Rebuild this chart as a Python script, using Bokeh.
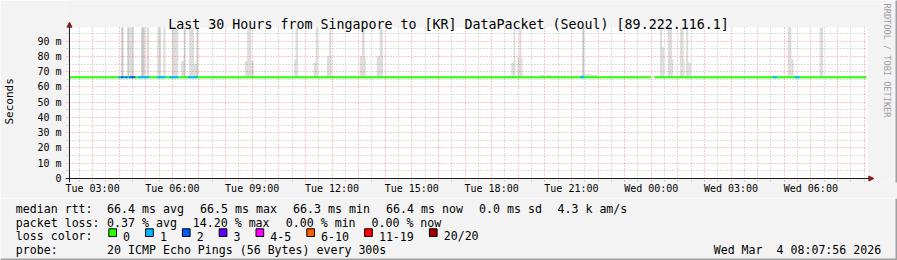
import math
from bokeh.plotting import figure
from bokeh.layouts import column
from bokeh.models import FixedTicker, Label, Arrow, NormalHead, Range1d
from bokeh.embed import file_html
from bokeh.resources import INLINE

# ---------------- data ----------------
title_text = "Last 30 Hours from Singapore to [KR] DataPacket (Seoul) [89.222.116.1]"
y_axis_label = "Seconds"
watermark = "RRDTOOL / TOBI OETIKER"
timestamp = "Wed Mar  4 08:07:56 2026"

# time axis in hours since Tue 00:00 (2026-03-03)
t_start = 2 + 7 / 60 + 56 / 3600
t_end = t_start + 30

x_tick_hours = [3, 6, 9, 12, 15, 18, 21, 24, 27, 30]
x_tick_labels = ["Tue 03:00", "Tue 06:00", "Tue 09:00", "Tue 12:00", "Tue 15:00",
                 "Tue 18:00", "Tue 21:00", "Wed 00:00", "Wed 03:00", "Wed 06:00"]
y_tick_values = [0, 10, 20, 30, 40, 50, 60, 70, 80, 90]
y_tick_labels = ["0", "10 m", "20 m", "30 m", "40 m", "50 m", "60 m", "70 m", "80 m", "90 m"]
y_top_ms = 99

median_rtt_ms = 66.4
rtt_start = [t_start, 24.12]
rtt_end = [23.99, 32.09]

smoke_start = [4.08, 4.31, 4.38, 4.83, 5.03, 5.43, 5.66, 5.98, 6.33, 6.43, 6.63, 6.81, 6.91,
               8.73, 8.81, 10.58, 10.63, 11.31, 11.39, 11.81, 11.89, 13.04, 13.12, 13.68, 13.79,
               18.74, 18.83, 18.97, 19.04, 19.79, 20.06, 20.36, 20.69, 21.09, 21.33, 21.41, 21.48,
               21.74, 24.33, 24.41, 24.62, 24.78, 25.08, 25.22, 25.31, 25.39, 29.13, 29.27, 30.33]
smoke_end = [4.16, 4.38, 4.56, 4.96, 5.13, 5.58, 5.74, 6.22, 6.48, 6.48, 6.81, 6.96, 6.96,
             9.06, 8.97, 10.72, 10.72, 11.47, 11.47, 11.99, 11.97, 13.27, 13.23, 13.91, 13.91,
             18.89, 18.89, 19.16, 19.12, 19.98, 20.24, 20.51, 20.81, 21.22, 21.48, 21.48, 21.74,
             22.00, 24.41, 24.49, 24.78, 24.82, 25.22, 25.25, 25.39, 25.49, 29.27, 29.35, 30.46]
smoke_top = [180, 180, 180, 180, 180, 180, 180, 180, 77, 180, 180, 75, 180,
             77, 180, 78, 180, 76, 180, 80, 180, 80, 180, 80, 180,
             76, 180, 79, 180, 67.8, 67.8, 67.4, 67.4, 67.4, 68.0, 180, 68.3,
             68.0, 180, 86, 180, 78, 180, 78, 180, 76, 180, 78, 180]
smoke_dense = [1, 1, 0, 1, 0, 0, 0, 0, 0, 1, 0, 0, 1,
               0, 0, 0, 0, 0, 0, 0, 0, 0, 0, 0, 0,
               0, 0, 0, 0, 0, 0, 0, 0, 0, 0, 1, 0,
               0, 0, 0, 0, 0, 0, 0, 0, 0, 0, 0, 0]

loss_start = [3.96, 4.08, 4.16, 4.23, 4.31, 4.38, 4.46, 4.53, 4.72, 5.43, 5.88, 6.58, 21.33, 28.57, 29.39]
loss_end = [4.08, 4.16, 4.23, 4.31, 4.38, 4.46, 4.53, 4.61, 5.13, 5.74, 6.22, 6.96, 21.48, 28.72, 29.57]
loss_pings = [1, 3, 1, 2, 1, 2, 3, 2, 1, 1, 1, 1, 1, 1, 1]

loss_legend_labels = ["0", "1", "2", "3", "4-5", "6-10", "11-19", "20/20"]
loss_legend_colors = ["#26ff00", "#00b8ff", "#0059ff", "#5e00ff", "#ff00fe", "#ff5e00", "#ff0000", "#a00000"]
loss_bin_upper = [0, 1, 2, 3, 5, 10, 19, 20]

rtt_label = "median rtt:"
rtt_items = ["66.4 ms avg", "66.5 ms max", "66.3 ms min", "66.4 ms now", "0.0 ms sd", "4.3 k am/s"]
loss_label = "packet loss:"
loss_items = ["0.37 % avg", "14.20 % max", "0.00 % min", "0.00 % now"]
color_label = "loss color:"
probe_label = "probe:"
probe_items = ["20 ICMP Echo Pings (56 Bytes) every 300s"]

# ---------------- layout / style ----------------
W = 897
MAIN_H, LEG_H = 198, 62
PLOT_L, PLOT_R, PLOT_T, PLOT_B = 67, 867, 27, 178   # RRD canvas area (px)
FRAME_L, FRAME_B = 63, 182
FONT = "DejaVu Sans Mono"
BACK = "#F3F3F3"
SHADE = "#A0A0A0"
MGRID = "#DE4F4F"
GRID = "#8F8F8F"
AXIS = "#1F1F1F"
ARROW = "#801F1F"
SMOKE = ["#DDDDDD", "#C8C8C8"]

px_per_h = (PLOT_R - PLOT_L) / 30
px_per_ms = (PLOT_B - PLOT_T) / y_top_ms
x_lo = t_start - (PLOT_L - FRAME_L) / px_per_h
x_hi = t_end + (W - PLOT_R) / px_per_h
y_lo = -(FRAME_B - PLOT_B) / px_per_ms
y_hi = y_top_ms + PLOT_T / px_per_ms
y_tip = y_top_ms + (PLOT_T - 21.7) / px_per_ms
x_tip = t_end + 6.3 / px_per_h


def loss_color(n):
    for upper, col in zip(loss_bin_upper, loss_legend_colors):
        if n <= upper:
            return col
    return loss_legend_colors[-1]


p = figure(width=W, height=MAIN_H, output_backend="svg", toolbar_location=None,
           x_range=Range1d(x_lo, x_hi), y_range=Range1d(y_lo, y_hi),
           min_border_left=FRAME_L, min_border_right=0, min_border_top=0,
           min_border_bottom=MAIN_H - FRAME_B,
           background_fill_color=BACK, border_fill_color=BACK, outline_line_color=None)

# white canvas of the graph
p.quad(left=[t_start], right=[t_end], bottom=[0], top=[y_top_ms],
       fill_color="white", line_color=None, level="image")

# grids
hourly = list(range(3, 33))
half_hourly = [h + 0.5 for h in range(2, 32)]
minor_y = [v + 5 for v in y_tick_values]
xg, yg = p.xgrid[0], p.ygrid[0]
xg.ticker = FixedTicker(ticks=hourly, minor_ticks=half_hourly)
yg.ticker = FixedTicker(ticks=y_tick_values, minor_ticks=minor_y)
for g in (xg, yg):
    g.grid_line_color = MGRID
    g.grid_line_alpha = 0.6
    g.grid_line_dash = "1 2"
    g.minor_grid_line_color = GRID
    g.minor_grid_line_alpha = 0.6
    g.minor_grid_line_dash = "1 2"
    g.level = "guide"
grid_ok = True
try:
    xg.cross_bounds = (y_lo * 0.75, y_top_ms)
    yg.cross_bounds = (t_start - 3 / px_per_h, t_end)
except Exception:
    grid_ok = False
if not grid_ok:
    xg.visible = False
    yg.visible = False
    p.segment(x0=half_hourly, y0=0, x1=half_hourly, y1=y_top_ms, line_color=GRID,
              line_alpha=0.6, line_dash="1 2", level="guide")
    p.segment(x0=hourly, y0=y_lo * 0.75, x1=hourly, y1=y_top_ms, line_color=MGRID,
              line_alpha=0.6, line_dash="1 2", level="guide")
    p.segment(x0=t_start, y0=minor_y, x1=t_end, y1=minor_y, line_color=GRID,
              line_alpha=0.6, line_dash="1 2", level="guide")
    p.segment(x0=t_start - 3 / px_per_h, y0=y_tick_values, x1=t_end, y1=y_tick_values,
              line_color=MGRID, line_alpha=0.6, line_dash="1 2", level="guide")

# axes
xa = p.xaxis[0]
xa.ticker = FixedTicker(ticks=x_tick_hours, minor_ticks=[])
xa.major_label_overrides = dict(zip(x_tick_hours, x_tick_labels))
ya = p.yaxis[0]
ya.ticker = FixedTicker(ticks=y_tick_values, minor_ticks=[])
ya.major_label_overrides = dict(zip(y_tick_values, y_tick_labels))
ya.bounds = (y_lo, y_tip)
for a in (xa, ya):
    a.axis_line_color = None
    a.major_tick_in = 0
    a.minor_tick_in = 0
    a.major_tick_out = 0
    a.minor_tick_out = 0
    a.major_label_text_font = FONT
    a.major_label_text_font_size = "10px"
    a.major_label_text_color = "black"
xa.major_label_standoff = 0
ya.major_label_standoff = 4
# the axis label is centred on the frame; pad (non-breaking) so it sits centred on the graph area
ya.axis_label = y_axis_label + "\u00a0" * 3
ya.axis_label_text_font = FONT
ya.axis_label_text_font_size = "11px"
ya.axis_label_text_font_style = "normal"
ya.axis_label_text_color = "black"
ya.axis_label_standoff = 18

# smoke (off-scale values are cut at the top of the graph, as rrdtool does)
p.quad(left=smoke_start, right=smoke_end, bottom=median_rtt_ms,
       top=[min(v, y_top_ms) for v in smoke_top],
       fill_color=[SMOKE[d] for d in smoke_dense], line_color=None)

# median line + loss colouring
p.segment(x0=rtt_start, y0=median_rtt_ms, x1=rtt_end, y1=median_rtt_ms,
          line_color=loss_legend_colors[0], line_width=2, level="annotation")
p.segment(x0=loss_start, y0=median_rtt_ms, x1=loss_end, y1=median_rtt_ms,
          line_color=[loss_color(n) for n in loss_pings], line_width=2, level="annotation")

# axis lines with arrows
head = dict(size=5, fill_color=ARROW, line_color=ARROW)
p.add_layout(Arrow(end=NormalHead(**head), x_start=x_lo, y_start=0,
                   x_end=x_tip, y_end=0, line_color=AXIS, line_width=1))
p.add_layout(Arrow(end=NormalHead(**head), x_start=t_start, y_start=y_lo,
                   x_end=t_start, y_end=y_tip, line_color=AXIS, line_width=1))

# image edge shading (right side of the graph part)
p.quad(left=[x_hi - 2 / px_per_h], right=[x_hi], bottom=[y_lo], top=[y_hi],
       fill_color=SHADE, line_color=None, level="overlay")


def canvas_text(fig, X, Y, text, size, align="left", baseline="alphabetic", angle=0.0, color="black"):
    fig.add_layout(Label(x=X, y=Y, x_units="canvas", y_units="canvas", text=text,
                         text_font=FONT, text_font_size=f"{size}px", text_align=align,
                         text_baseline=baseline, angle=angle, text_color=color))


canvas_text(p, 448, 24, title_text, 13.3, align="center")
canvas_text(p, 886, 60, watermark, 8.6, align="center", baseline="middle",
            angle=-math.pi / 2, color="#A0A0A0")

# ---------------- legend block ----------------
p2 = figure(width=W, height=LEG_H, output_backend="svg", toolbar_location=None,
            x_range=Range1d(0, W), y_range=Range1d(MAIN_H + LEG_H, MAIN_H),
            x_axis_type=None, y_axis_type=None, min_border=0,
            background_fill_color=BACK, border_fill_color=BACK, outline_line_color=None)
p2.grid.visible = False
for fig in (p, p2):
    try:
        fig.frame_align = False
    except Exception:
        pass

LEG = 11.6
col0, col1 = 15.3, 106.6
char_w, gap = 7.3, 12.7
rows_y = [208.3, 222.0, 235.7, 249.4]


def leg_text(X, Y, text, align="left"):
    # keep runs of spaces visible in SVG output
    text = text.replace("  ", " \u00a0")
    p2.add_layout(Label(x=X, y=Y, text=text, text_font=FONT, text_font_size=f"{LEG}px",
                        text_align=align, text_baseline="alphabetic", text_color="black"))


for label, items, y in ((rtt_label, rtt_items, rows_y[0]),
                        (loss_label, loss_items, rows_y[1]),
                        (probe_label, probe_items, rows_y[3])):
    leg_text(col0, y, label)
    x = col1
    for it in items:
        leg_text(x, y, it)
        x += len(it) * char_w + gap

leg_text(col0, rows_y[2], color_label)
box_l, box_r = [], []
bx = 108.3
for lab in loss_legend_labels:
    box_l.append(bx)
    box_r.append(bx + 7.7)
    lx = bx + 14.3
    leg_text(lx, rows_y[2], lab)
    bx = lx + len(lab) * 7.0 + 15.5
p2.quad(left=box_l, right=box_r, top=rows_y[2] - 7.4, bottom=rows_y[2] + 0.3,
        fill_color=loss_legend_colors, line_color="black", line_width=1)

leg_text(880.7, rows_y[3], timestamp, align="right")

# image edge shading (bottom and right)
p2.quad(left=[0, W - 2], right=[W, W], top=[MAIN_H + LEG_H - 2, MAIN_H],
        bottom=[MAIN_H + LEG_H, MAIN_H + LEG_H], fill_color=SHADE, line_color=None)

open("out.html", "w").write(file_html(column(p, p2), INLINE))
